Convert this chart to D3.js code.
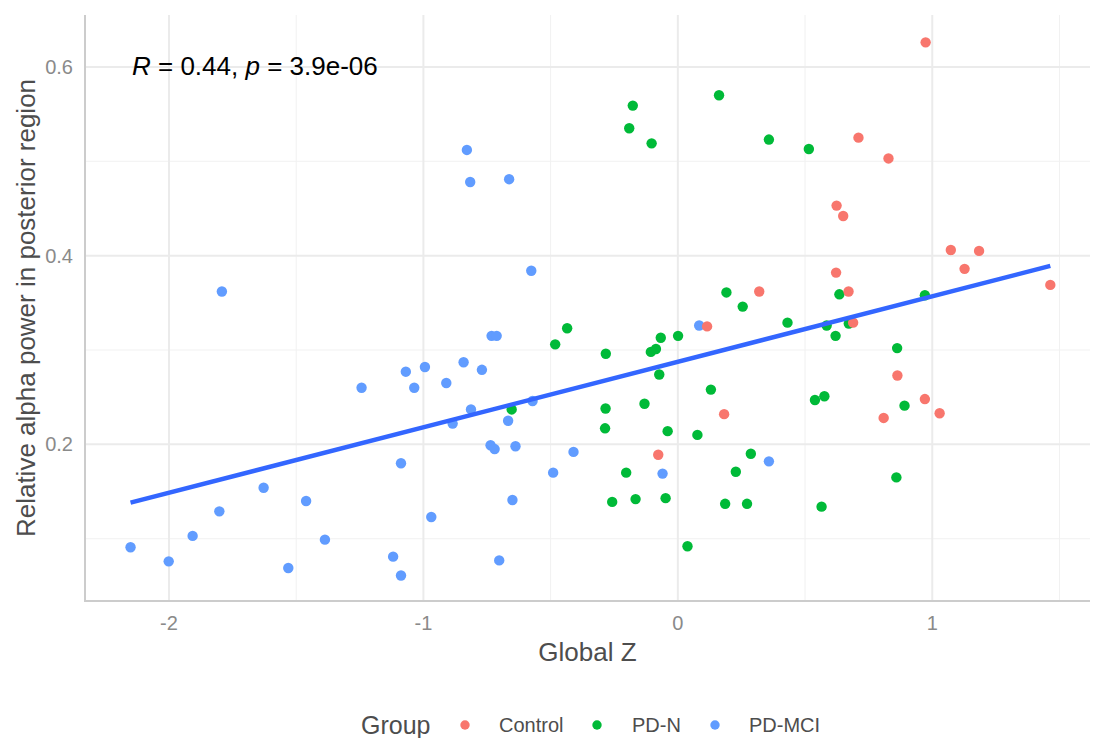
<!DOCTYPE html>
<head>
  <meta charset="utf-8" />
  <script src="https://d3js.org/d3.v7.min.js"></script>
  <style>
    body { margin: 0; background: #fff; }
    text { font-family: "Liberation Sans", Arial, Helvetica, sans-serif; }
  </style>
</head>
<body>
  <script>
    // data
    var groups = ["Control", "PD-N", "PD-MCI"];
    var groupColors = ["#F8766D", "#00BA38", "#619CFF"];

    var controlX = [0.974, 0.710, 0.828, 0.624, 0.650, 1.073, 1.184, 1.127, 0.622, 0.320,
      0.671, 1.464, 0.115, 0.689, 0.863, 0.971, 0.809, 1.029, 0.182, -0.077];
    var controlY = [0.626, 0.525, 0.503, 0.453, 0.442, 0.406, 0.405, 0.386, 0.382, 0.362,
      0.362, 0.369, 0.325, 0.329, 0.273, 0.248, 0.228, 0.233, 0.232, 0.189];

    var pdnX = [-0.177, -0.191, -0.103, 0.162, 0.358, 0.515, 0.191, -0.435, -0.482, -0.283,
      -0.067, 0.001, -0.106, -0.086, -0.073, 0.130, -0.284, -0.131, -0.286, -0.040,
      0.077, -0.653, 0.287, -0.203, 0.228, -0.258, -0.166, -0.048, 0.186, 0.272,
      0.038, 0.255, 0.431, 0.635, 0.585, 0.672, 0.620, 0.971, 0.862, 0.539,
      0.576, 0.891, 0.859, 0.565];
    var pdnY = [0.559, 0.535, 0.519, 0.570, 0.523, 0.513, 0.361, 0.323, 0.306, 0.296,
      0.313, 0.315, 0.298, 0.301, 0.274, 0.258, 0.238, 0.243, 0.217, 0.214,
      0.210, 0.237, 0.190, 0.170, 0.171, 0.139, 0.142, 0.143, 0.137, 0.137,
      0.092, 0.346, 0.329, 0.359, 0.326, 0.328, 0.315, 0.358, 0.302, 0.247,
      0.251, 0.241, 0.165, 0.134];

    var mciX = [-0.829, -0.816, -0.663, -0.576, -1.792, -0.732, -0.712, -1.069, -0.994, -1.036,
      -0.910, -0.842, -0.770, -1.243, -0.813, -0.885, -0.667, -0.571, -0.736, -0.720,
      -0.638, -1.088, -0.410, -0.490, -0.060, -0.650, -0.969, -0.702, -1.088, 0.084,
      0.358, -2.151, -2.001, -1.907, -1.802, -1.628, -1.461, -1.387, -1.531, -1.119];
    var mciY = [0.512, 0.478, 0.481, 0.384, 0.362, 0.315, 0.315, 0.277, 0.282, 0.260,
      0.265, 0.287, 0.279, 0.260, 0.237, 0.222, 0.225, 0.246, 0.199, 0.195,
      0.198, 0.180, 0.192, 0.170, 0.169, 0.141, 0.123, 0.077, 0.061, 0.326,
      0.182, 0.091, 0.076, 0.103, 0.129, 0.154, 0.140, 0.099, 0.069, 0.081];

    var xTicks = [-2, -1, 0, 1];
    var xMinor = [-1.5, -0.5, 0.5, 1.5];
    var yTicks = [0.2, 0.4, 0.6];
    var yMinor = [0.1, 0.3, 0.5];

    var width = 1093, height = 738;
    var pLeft = 85, pRight = 1090, pTop = 15, pBottom = 601;

    var svg = d3.select("body").append("svg")
      .attr("width", width)
      .attr("height", height);

    var points = [];
    function addGroup(xs, ys, g) {
      xs.forEach(function (v, i) { points.push({ x: v, y: ys[i], g: g }); });
    }
    addGroup(mciX, mciY, "PD-MCI");
    addGroup(pdnX, pdnY, "PD-N");
    addGroup(controlX, controlY, "Control");

    var x = d3.scaleLinear().domain([-2.33, 1.62]).range([pLeft, pRight]);
    var y = d3.scaleLinear().domain([0.034, 0.655]).range([pBottom, pTop]);
    var color = d3.scaleOrdinal().domain(groups).range(groupColors);

    // grid
    var grid = svg.append("g");
    grid.selectAll(".xmin").data(xMinor).join("line")
      .attr("x1", d => x(d)).attr("x2", d => x(d))
      .attr("y1", pTop).attr("y2", pBottom)
      .attr("stroke", "#f1f1f1").attr("stroke-width", 1);
    grid.selectAll(".ymin").data(yMinor).join("line")
      .attr("x1", pLeft).attr("x2", pRight)
      .attr("y1", d => y(d)).attr("y2", d => y(d))
      .attr("stroke", "#f1f1f1").attr("stroke-width", 1);
    grid.selectAll(".xmaj").data(xTicks).join("line")
      .attr("x1", d => x(d)).attr("x2", d => x(d))
      .attr("y1", pTop).attr("y2", pBottom)
      .attr("stroke", "#ebebeb").attr("stroke-width", 2);
    grid.selectAll(".ymaj").data(yTicks).join("line")
      .attr("x1", pLeft).attr("x2", pRight)
      .attr("y1", d => y(d)).attr("y2", d => y(d))
      .attr("stroke", "#ebebeb").attr("stroke-width", 2);

    // axis lines
    svg.append("line").attr("x1", pLeft).attr("x2", pLeft).attr("y1", pTop).attr("y2", pBottom + 1)
      .attr("stroke", "#cccccc").attr("stroke-width", 2);
    svg.append("line").attr("x1", pLeft - 1).attr("x2", pRight).attr("y1", pBottom).attr("y2", pBottom)
      .attr("stroke", "#cccccc").attr("stroke-width", 2);

    // tick labels
    svg.selectAll(".xt").data(xTicks).join("text")
      .attr("x", d => x(d)).attr("y", 630)
      .attr("text-anchor", "middle")
      .attr("font-size", 20).attr("fill", "#8a8a8a")
      .text(d => d);
    svg.selectAll(".yt").data(yTicks).join("text")
      .attr("x", 73).attr("y", d => y(d) + 7)
      .attr("text-anchor", "end")
      .attr("font-size", 20).attr("fill", "#8a8a8a")
      .text(d => d3.format(".1f")(d));

    // axis titles
    svg.append("text").attr("x", (pLeft + pRight) / 2).attr("y", 661)
      .attr("text-anchor", "middle").attr("font-size", 26).attr("fill", "#4d4d4d")
      .text("Global Z");
    svg.append("text")
      .attr("transform", "translate(35," + ((pTop + pBottom) / 2) + ") rotate(-90)")
      .attr("text-anchor", "middle").attr("font-size", 26).attr("fill", "#4d4d4d")
      .text("Relative alpha power in posterior region");

    // points
    svg.append("g").selectAll("circle").data(points).join("circle")
      .attr("cx", d => x(d.x)).attr("cy", d => y(d.y))
      .attr("r", 5.2)
      .attr("fill", d => color(d.g));

    // linear fit over all points
    var mx = d3.mean(points, d => d.x), my = d3.mean(points, d => d.y);
    var sxy = d3.sum(points, d => (d.x - mx) * (d.y - my));
    var sxx = d3.sum(points, d => (d.x - mx) * (d.x - mx));
    var slope = sxy / sxx, icept = my - slope * mx;
    var xr = d3.extent(points, d => d.x);
    svg.append("path")
      .datum(xr)
      .attr("d", d3.line().x(d => x(d)).y(d => y(icept + slope * d)))
      .attr("stroke", "#3366FF").attr("stroke-width", 4.5).attr("fill", "none");

    // annotation
    var ann = svg.append("text").attr("x", 132).attr("y", 75)
      .attr("font-size", 26).attr("fill", "#000");
    ann.append("tspan").attr("font-style", "italic").text("R");
    ann.append("tspan").text(" = 0.44, ");
    ann.append("tspan").attr("font-style", "italic").text("p");
    ann.append("tspan").text(" = 3.9e-06");

    // legend
    var leg = svg.append("g");
    leg.append("text").attr("x", 361).attr("y", 734)
      .attr("font-size", 25).attr("fill", "#4d4d4d").text("Group");
    var keyX = [465, 597, 715];
    var labX = [499, 632, 749];
    groups.forEach(function (g, i) {
      leg.append("circle").attr("cx", keyX[i]).attr("cy", 725).attr("r", 4.7).attr("fill", color(g));
      leg.append("text").attr("x", labX[i]).attr("y", 732)
        .attr("font-size", 20).attr("fill", "#4d4d4d").text(g);
    });
  </script>
</body>
